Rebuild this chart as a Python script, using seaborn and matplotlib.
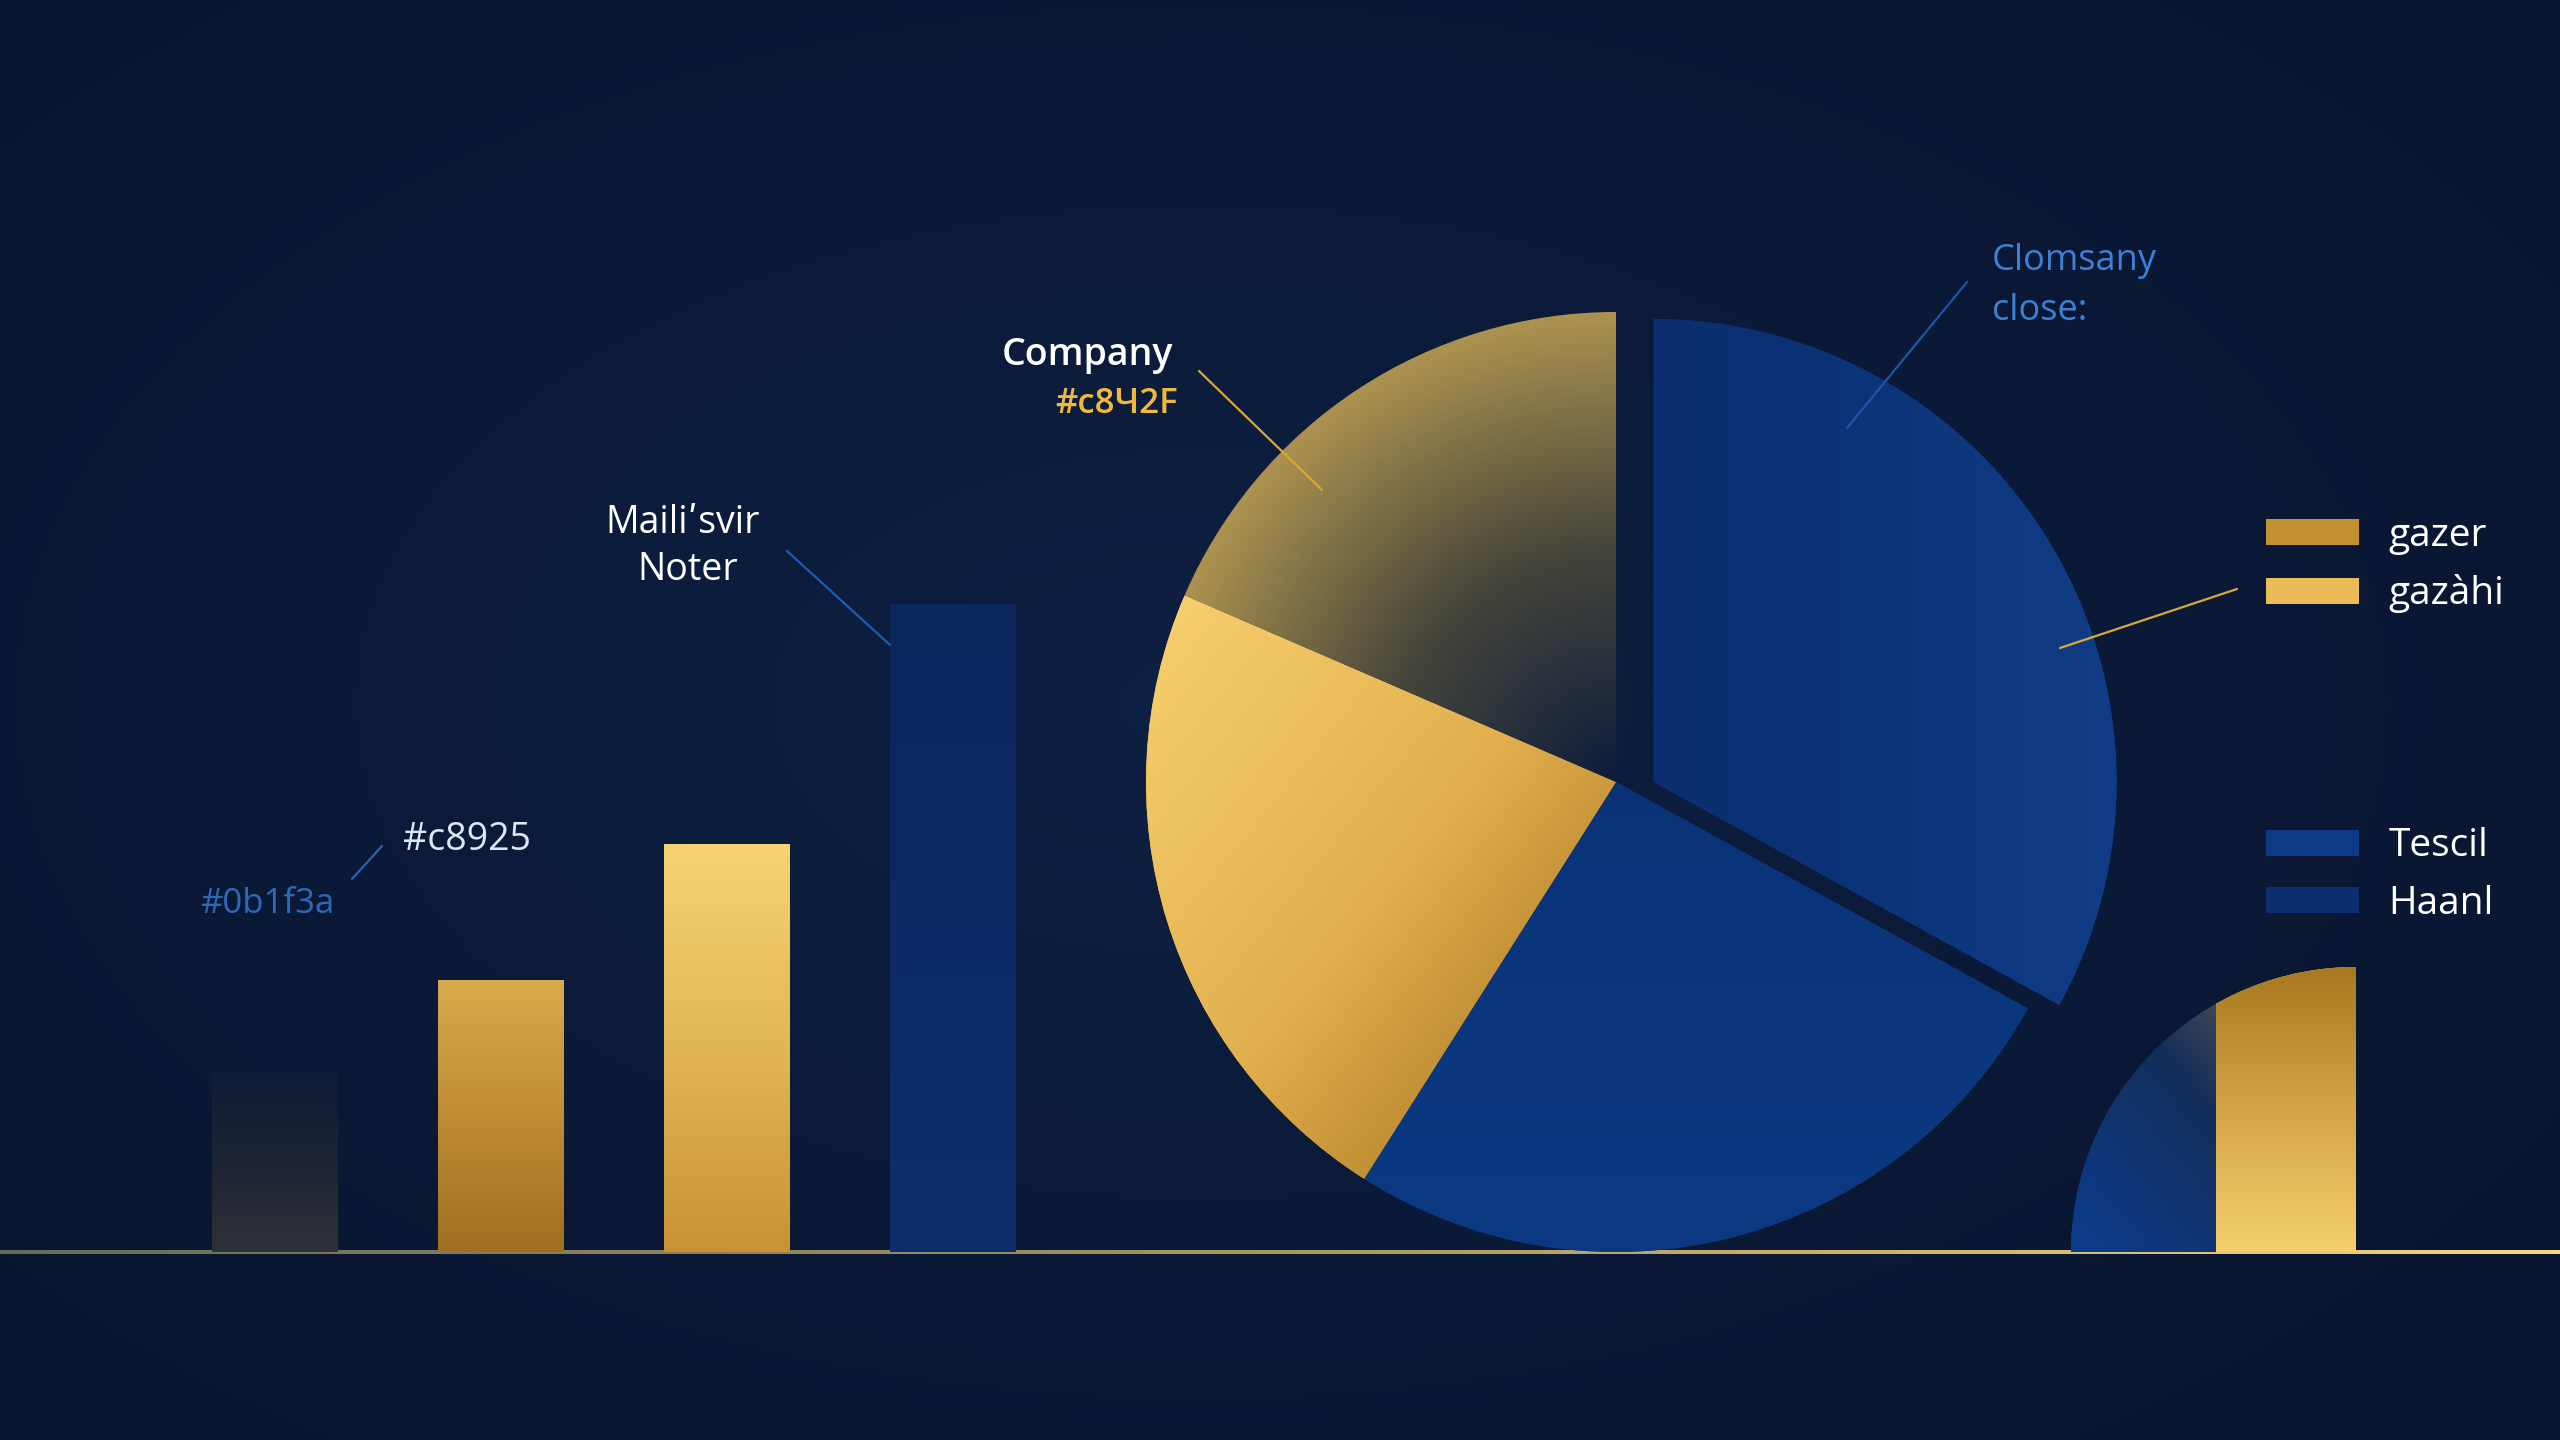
import numpy as np
import pandas as pd
import matplotlib
matplotlib.use("Agg")
import matplotlib.pyplot as plt
import seaborn as sns
from matplotlib.colors import LinearSegmentedColormap
from matplotlib.patches import Patch

# --- data ---
bar_labels = ["A", "B", "C", "D"]
bar_values = [28, 42, 63, 100]
side_labels = ["E"]
side_values = [44]
pie_labels = ["Clomsany", "Tescil", "gazàhi", "Company"]
pie_values = [33, 26, 22.5, 18.5]
quarter_values = [25, 75]
legend_gold = ["gazer", "gazàhi"]
legend_blue = ["Tescil", "Haanl"]

W, H = 2560, 1440
sns.set_theme(style="white")
plt.rcParams["font.family"] = ["Open Sans", "DejaVu Sans"]

fig = plt.figure(figsize=(25.6, 14.4), dpi=100)
fig.patch.set_facecolor("#0b1a36")


def gradient_fill(ax, patch, colors, angle=-90, center=None, radius=1.0, clip=None):
    bb = patch.get_extents().transformed(ax.transData.inverted())
    x0, y0, x1, y1 = bb.x0, bb.y0, bb.x1, bb.y1
    X, Y = np.meshgrid(np.linspace(x0, x1, 256), np.linspace(y0, y1, 256))
    if center is not None:
        t = np.clip(np.hypot(X - center[0], Y - center[1]) / radius, 0, 1)
    else:
        a = np.deg2rad(angle)
        t = (X - x0) / (x1 - x0) * np.cos(a) + (Y - y0) / (y1 - y0) * np.sin(a)
        t = (t - t.min()) / (t.max() - t.min())
    cmap = LinearSegmentedColormap.from_list("g", colors)
    im = ax.imshow(t, extent=(x0, x1, y0, y1), origin="lower", cmap=cmap,
                   vmin=0, vmax=1, aspect="auto", interpolation="bilinear",
                   zorder=patch.get_zorder() + 0.5)
    im.set_clip_path(clip if clip is not None else patch)


# background (pixel coordinates, y down)
bg = fig.add_axes([0, 0, 1, 1])
bg.set_xlim(0, W)
bg.set_ylim(H, 0)
bg.axis("off")
gy, gx = np.mgrid[0:H:4, 0:W:4]
d = np.clip(np.hypot((gx - 1200) / 1700, (gy - 700) / 1000), 0, 1)
bg_cmap = LinearSegmentedColormap.from_list("bg", ["#0e2043", "#0b1a38", "#09152f"])
bg.imshow(d, extent=(0, W, H, 0), cmap=bg_cmap, vmin=0, vmax=1,
          aspect="auto", interpolation="bilinear")
base_cmap = LinearSegmentedColormap.from_list("base", ["#6a6a5c", "#a8965e", "#f3d680"])
bg.imshow(np.linspace(0, 1, 256)[None, :], extent=(0, W, 1254, 1250),
          cmap=base_cmap, aspect="auto", zorder=2)

# small quarter wedge on the right
ax_q = fig.add_axes([(2356 - 285) / W, (188 - 285) / H, 570 / W, 570 / H])
qw, _ = ax_q.pie(quarter_values, colors=["#0a3a88", "none"], startangle=90,
                 counterclock=True, wedgeprops=dict(linewidth=0))
ax_q.set_xlim(-1, 1)
ax_q.set_ylim(-1, 1)
gradient_fill(ax_q, qw[0], ["#0a3c8e", "#152e5a", "#8a7442"], angle=40)
ax_q.set_aspect("equal")

# bar chart on the left
bar_df = pd.DataFrame({"label": bar_labels, "value": bar_values})
ax_bar = fig.add_axes([162 / W, 188 / H, 904 / W, 777.6 / H])
sns.barplot(data=bar_df, x="label", y="value", ax=ax_bar, width=0.557,
            color="#c8922f", saturation=1, errorbar=None, linewidth=0)
ax_bar.set_xlim(-0.5, 3.5)
ax_bar.set_ylim(0, 120)
ax_bar.axis("off")
bar_grads = [["#0f1c36", "#1c2334", "#2f3236"],
             ["#d8ab4b", "#c08c34", "#a06e20"],
             ["#f8d372", "#e3b655", "#c89235"],
             ["#0c265e", "#0d2d6c"]]
for p, cols in zip(ax_bar.patches, bar_grads):
    gradient_fill(ax_bar, p, cols, angle=-90)

# gold bar on the right, cut by the quarter wedge
side_df = pd.DataFrame({"label": side_labels, "value": side_values})
ax_side = fig.add_axes([(2286 - 87.5) / W, 188 / H, 175 / W, 777.6 / H])
sns.barplot(data=side_df, x="label", y="value", ax=ax_side, width=0.8,
            color="#e0b050", saturation=1, errorbar=None, linewidth=0)
ax_side.set_xlim(-0.5, 0.5)
ax_side.set_ylim(0, 120)
ax_side.axis("off")
side_bar = ax_side.patches[0]
side_bar.set_clip_path(qw[0])
gradient_fill(ax_side, side_bar, ["#a87820", "#d4a447", "#f6cf6c"], angle=-90, clip=qw[0])

# pie in the middle
ax_pie = fig.add_axes([(1616 - 611) / W, (658 - 611) / H, 1222 / W, 1222 / H])
wedges, _ = ax_pie.pie(pie_values, colors=["#0c3278", "#0b3679", "#e0ae4a", "#3a3a38"],
                       startangle=90, counterclock=False,
                       wedgeprops=dict(linewidth=0))
wedges[0].set_center((0.08, 0))
wedges[0].set_radius(0.985)
ax_pie.set_xlim(-1.3, 1.3)
ax_pie.set_ylim(-1.3, 1.3)
gradient_fill(ax_pie, wedges[0], ["#0b2f70", "#0c3479", "#113d86"], angle=0)
gradient_fill(ax_pie, wedges[1], ["#0a3377", "#0b3a83"], angle=-90)
gradient_fill(ax_pie, wedges[2], ["#f8d16e", "#e2b04e", "#9c6a18"], angle=-45)
gradient_fill(ax_pie, wedges[3], ["#0d1c3c", "#45453a", "#ab924f"], center=(0, 0), radius=1.0)
ax_pie.set_aspect("equal")

# overlay for labels and leader lines
fg = fig.add_axes([0, 0, 1, 1])
fg.set_xlim(0, W)
fg.set_ylim(H, 0)
fg.axis("off")

fg.text(1173, 365, "Company", ha="right", va="baseline", color="white",
        fontsize=27, fontweight="semibold")
fg.text(1178, 413, "#c8Ч2F", ha="right", va="baseline", color="#f0b93c",
        fontsize=25, fontweight="semibold")
fg.text(683, 533, "Mailiʹsvir", ha="center", va="baseline", color="white", fontsize=27)
fg.text(688, 580, "Noter", ha="center", va="baseline", color="white", fontsize=27)
fg.text(1992, 270, "Clomsany", ha="left", va="baseline", color="#3d80d4", fontsize=26)
fg.text(1992, 320, "close:", ha="left", va="baseline", color="#3d80d4", fontsize=26)
fg.text(403, 850, "#c8925", ha="left", va="baseline", color="#dce8f5", fontsize=27)
fg.text(200, 913, "#0b1f3a", ha="left", va="baseline", color="#2e69b8", fontsize=25)

leaders = [((1199, 371), (1322, 490), "#d9a936"),
           ((787, 551), (890, 645), "#1f5bb5"),
           ((1967, 282), (1847, 428), "#1e55a8"),
           ((2237, 589), (2060, 648), "#d7aa3f"),
           ((382, 846), (352, 879), "#2a63b0")]
for start, end, col in leaders:
    fg.annotate("", xy=end, xytext=start,
                arrowprops=dict(arrowstyle="-", color=col, lw=1.6,
                                shrinkA=0, shrinkB=0))

# legends on the right
gold_handles = [Patch(facecolor="#c3912f", edgecolor="none"),
                Patch(facecolor="#ebbb57", edgecolor="none")]
blue_handles = [Patch(facecolor="#0d3a84", edgecolor="none"),
                Patch(facecolor="#0c306f", edgecolor="none")]
for handles, labels, yc in [(gold_handles, legend_gold, 565),
                            (blue_handles, legend_blue, 875)]:
    fig.legend(handles, labels, loc="center left",
               bbox_to_anchor=(2266 / W, 1 - yc / H), frameon=False,
               fontsize=28, labelcolor="white", handlelength=2.4,
               handleheight=0.65, handletextpad=0.75, labelspacing=0.5,
               borderpad=0, borderaxespad=0)

fig.savefig("out.png", dpi=100, facecolor=fig.get_facecolor())
